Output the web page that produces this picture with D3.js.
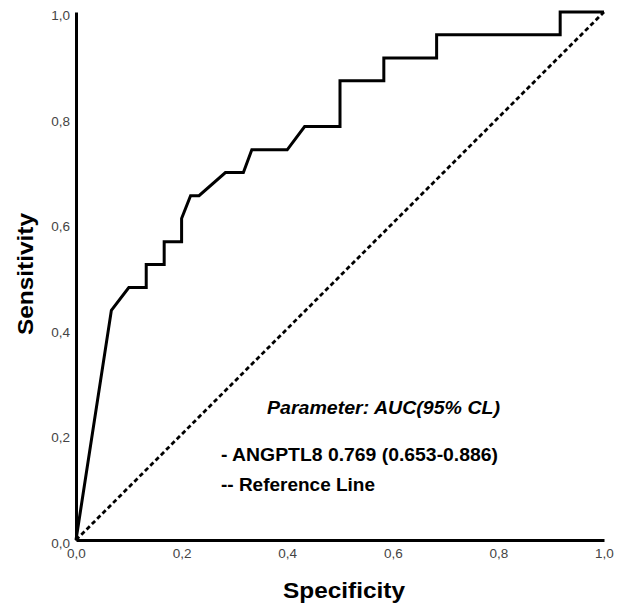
<!DOCTYPE html>
<html>
<head>
<meta charset="utf-8">
<script src="https://cdn.jsdelivr.net/npm/d3@7"></script>
<style>
  body { margin: 0; background: #fff; }
  text { font-family: "Liberation Sans", Arial, sans-serif; }
</style>
</head>
<body>
<div id="chart"></div>
<script>
// ROC curve values
var specificity = [0, 0.067, 0.1, 0.133, 0.133, 0.167, 0.167, 0.2, 0.2, 0.217, 0.233, 0.283, 0.317,
                   0.333, 0.4, 0.433, 0.5, 0.5, 0.583, 0.583, 0.683, 0.683, 0.917, 0.917, 1]
var sensitivity = [0, 0.435, 0.478, 0.478, 0.522, 0.522, 0.565, 0.565, 0.609, 0.652, 0.652, 0.696, 0.696,
                   0.739, 0.739, 0.783, 0.783, 0.870, 0.870, 0.913, 0.913, 0.957, 0.957, 1, 1]
var refLine = [0, 1]
var ticks = [0, 0.2, 0.4, 0.6, 0.8, 1.0]
var legendLines = ["Parameter: AUC(95% CL)", "- ANGPTL8 0.769 (0.653-0.886)", "-- Reference Line"]

var margin = {top: 12, right: 13, bottom: 67, left: 76}
  , width = 617 - margin.left - margin.right
  , height = 607 - margin.top - margin.bottom;

var xScale = d3.scaleLinear().domain([0, 1]).range([0, width]);
var yScale = d3.scaleLinear().domain([0, 1]).range([height, 0]);

var fmt = function(d) { return d3.format(".1f")(d).replace(".", ","); };

var svg = d3.select("#chart").append("svg")
    .attr("width", 617)
    .attr("height", 607)
  .append("g")
    .attr("transform", "translate(" + margin.left + "," + margin.top + ")");

// axes, no tick marks, just the lines and labels
var xAxis = svg.append("g")
    .attr("transform", "translate(0," + height + ")")
    .call(d3.axisBottom(xScale).tickValues(ticks).tickSize(0).tickPadding(8).tickFormat(fmt));
var yAxis = svg.append("g")
    .call(d3.axisLeft(yScale).tickValues(ticks).tickSize(0).tickPadding(6).tickFormat(fmt));

[xAxis, yAxis].forEach(function(ax) {
  ax.select(".domain").attr("stroke", "#000").attr("stroke-width", 3);
  ax.selectAll("text")
    .style("font-family", "'Liberation Sans', Arial, sans-serif")
    .style("font-size", "13.5px")
    .attr("fill", "#444");
});
yAxis.selectAll("text").attr("dy", "0.55em");

// reference diagonal
svg.append("path")
    .datum(refLine)
    .attr("fill", "none")
    .attr("stroke", "#000")
    .attr("stroke-width", 2.8)
    .attr("stroke-dasharray", "4.5,3")
    .attr("d", d3.line().x(function(d) { return xScale(d); }).y(function(d) { return yScale(d); }));

// ROC curve
var rocLine = d3.line()
    .x(function(d, i) { return xScale(specificity[i]); })
    .y(function(d) { return yScale(d); });

svg.append("path")
    .datum(sensitivity)
    .attr("fill", "none")
    .attr("stroke", "#000")
    .attr("stroke-width", 3)
    .attr("stroke-linejoin", "miter")
    .attr("d", rocLine);

// axis titles
svg.append("text")
    .attr("transform", "translate(" + (33 - margin.left) + "," + (274 - margin.top) + ") rotate(-90)")
    .attr("text-anchor", "middle")
    .style("font-size", "22px")
    .style("font-weight", "bold")
    .attr("textLength", 122)
    .attr("lengthAdjust", "spacingAndGlyphs")
    .text("Sensitivity");

svg.append("text")
    .attr("x", 344 - margin.left)
    .attr("y", 598 - margin.top)
    .attr("text-anchor", "middle")
    .style("font-size", "22px")
    .style("font-weight", "bold")
    .attr("textLength", 122)
    .attr("lengthAdjust", "spacingAndGlyphs")
    .text("Specificity");

// legend text block
var legendPos = [
  {x: 267, y: 414, len: 233, italic: true},
  {x: 221, y: 461, len: 277, italic: false},
  {x: 221, y: 491, len: 154, italic: false}
];
legendLines.forEach(function(t, i) {
  var p = legendPos[i];
  svg.append("text")
      .attr("x", p.x - margin.left)
      .attr("y", p.y - margin.top)
      .style("font-size", "18px")
      .style("font-weight", "bold")
      .style("font-style", p.italic ? "italic" : "normal")
      .attr("textLength", p.len)
      .attr("lengthAdjust", "spacingAndGlyphs")
      .text(t);
});
</script>
</body>
</html>
